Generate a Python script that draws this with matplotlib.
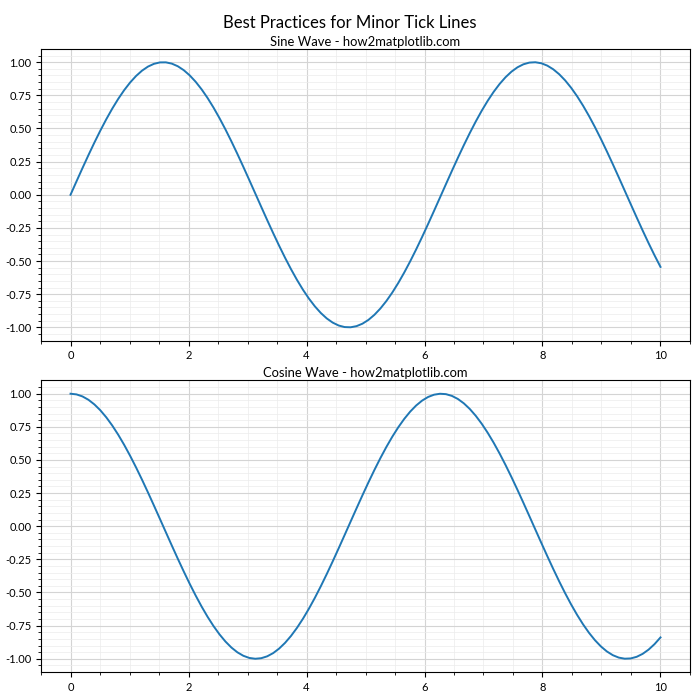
import numpy as np
import matplotlib
matplotlib.use("Agg")
import matplotlib.pyplot as plt
from matplotlib.ticker import AutoMinorLocator, FormatStrFormatter

plt.rcParams['font.family'] = ['Lato', 'DejaVu Sans']

# Data: the chart plots sin(x) and cos(x) over [0, 10]
x_start, x_end, n_points = 0, 10, 100
x = np.linspace(x_start, x_end, n_points)
sine_values = np.sin(x)
cosine_values = np.cos(x)

suptitle = "Best Practices for Minor Tick Lines"
titles = ["Sine Wave - how2matplotlib.com", "Cosine Wave - how2matplotlib.com"]
series = [sine_values, cosine_values]

fig, axes = plt.subplots(2, 1, figsize=(7, 7), dpi=100)
fig.subplots_adjust(left=0.0586, right=0.9857, top=0.93, bottom=0.04, hspace=0.137)
fig.suptitle(suptitle, fontsize=12, y=0.979)

for ax, y, t in zip(axes, series, titles):
    ax.plot(x, y, color='#1f77b4', linewidth=1.4)
    ax.set_title(t, fontsize=9.4, pad=2.5)
    ax.xaxis.set_minor_locator(AutoMinorLocator(4))
    ax.yaxis.set_minor_locator(AutoMinorLocator(5))
    ax.grid(which='major', color='#d4d4d4', linewidth=0.8)
    ax.grid(which='minor', color='#ececec', linewidth=0.5)
    ax.tick_params(labelsize=8)
    ax.yaxis.set_major_formatter(FormatStrFormatter('%.2f'))

fig.savefig("out.png", dpi=100)
